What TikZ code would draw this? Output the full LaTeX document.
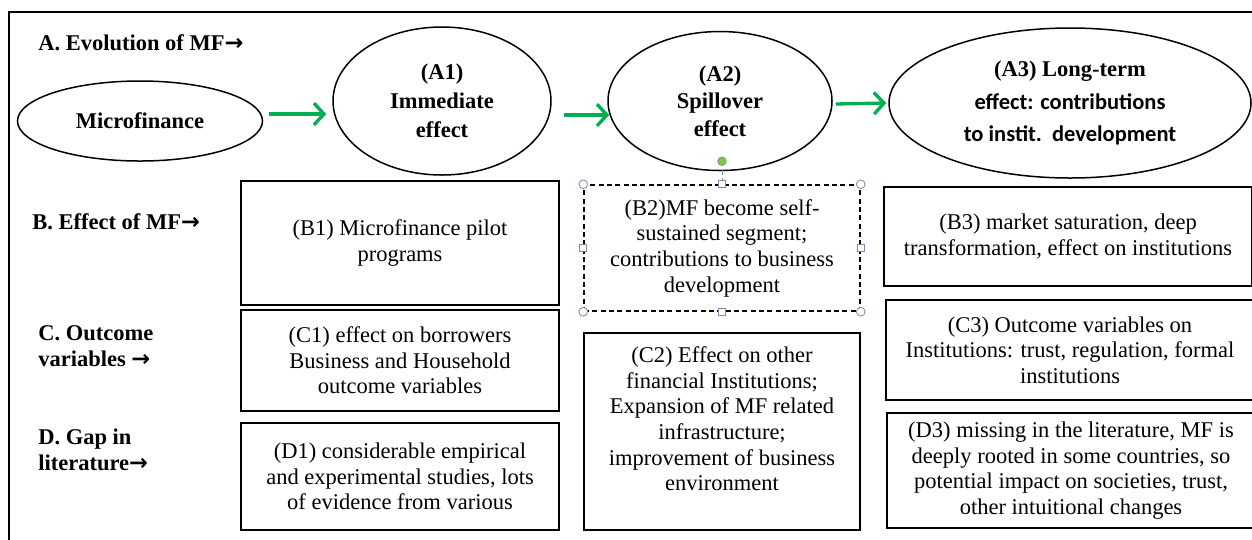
\documentclass[tikz,border=0pt]{standalone}
\usepackage{fontspec}
\setmainfont{Liberation Serif}
\newfontfamily\calibfont{Carlito}
\newfontfamily\arrowfont{DejaVu Sans}
\newcommand{\rarr}{{\arrowfont\bfseries →}}
\usetikzlibrary{shapes,arrows.meta}
\definecolor{arrowgreen}{RGB}{0,176,80}
\definecolor{handlegray}{RGB}{125,140,165}
\definecolor{handlegreen}{RGB}{125,200,60}

\begin{document}
\begin{tikzpicture}[x=0.6pt, y=-0.6pt]
    % Define block styles
    \tikzstyle{stage} = [ellipse, draw, line width=0.9pt, inner sep=0pt, align=center,
        font=\fontsize{13.5}{15.4}\selectfont\bfseries]
    \tikzstyle{block} = [rectangle, draw, line width=0.9pt, align=center,
        font=\fontsize{13.5}{15.4}\selectfont]
    \tikzstyle{rowlabel} = [anchor=west, align=left, inner sep=0pt,
        font=\fontsize{13.5}{15.4}\selectfont\bfseries]
    \tikzstyle{flow} = [draw, arrowgreen, line width=2pt,
        -{Straight Barb[length=6pt, width=13pt]}]
    \tikzstyle{handle} = [draw=handlegray, fill=white, line width=0.5pt]

    \useasboundingbox (0,0) rectangle (1252,539);
    \clip (0,0) rectangle (1252,539);
    \draw[line width=0.9pt] (9,12) rectangle (1275,560);

    % Row labels
    \node [rowlabel] (rowa) at (38,43) {A. Evolution of MF\rarr};
    \node [rowlabel] (rowb) at (32,222) {B. Effect of MF\rarr};
    \node [rowlabel] (rowc) at (38,346) {C. Outcome\\variables \rarr};
    \node [rowlabel] (rowd) at (38,450) {D. Gap in\\literature\rarr};

    % Place nodes
    \node [stage, minimum width=147pt, minimum height=48pt] (mf) at (140,121) {Microfinance};
    \node [stage, minimum width=130.8pt, minimum height=88.8pt] (a1) at (442,101)
        {(A1)\\[2pt]Immediate\\[2pt]effect};
    \node [stage, minimum width=134.4pt, minimum height=83.4pt] (a2) at (720,101)
        {(A2)\\[1pt]Spillover\\[1pt]effect};
    \node [stage, minimum width=217.2pt, minimum height=90pt] (a3) at (1070,103)
        {(A3) Long-term\\[4pt]{\calibfont effect: contributions}\\[4pt]
         {\calibfont to instit.\ \ development}};

    \node [block, minimum width=190.8pt, minimum height=74.4pt] (b1) at (400,243)
        {(B1) Microfinance pilot\\programs};
    \node [block, minimum width=190.8pt, minimum height=60.6pt] (c1) at (400,360.5)
        {(C1) effect on borrowers\\Business and Household\\outcome variables};
    \node [block, minimum width=190.8pt, minimum height=64.2pt] (d1) at (400,476.5)
        {(D1) considerable empirical\\and experimental studies, lots\\of evidence from various};

    \node [block, densely dashed, minimum width=165.6pt, minimum height=75.6pt] (b2) at (722,248)
        {(B2)MF become self-\\sustained segment;\\contributions to business\\development};
    \node [block, minimum width=165.6pt, minimum height=118.2pt] (c2) at (722,431.5)
        {(C2) Effect on other\\financial Institutions;\\Expansion of MF related\\infrastructure;\\improvement of business\\environment\\\mbox{}};

    \node [block, minimum width=220.8pt, minimum height=59.4pt] (b3) at (1068,236.5)
        {(B3) market saturation, deep\\transformation, effect on institutions};
    \node [block, minimum width=220.8pt, minimum height=60pt] (c3) at (1070,350)
        {(C3) Outcome variables on\\Institutions: trust, regulation, formal\\institutions};
    \node [block, minimum width=220.8pt, minimum height=69pt] (d3) at (1071,470.5)
        {(D3) missing in the literature, MF is\\deeply rooted in some countries, so\\potential impact on societies, trust,\\other intuitional changes};

    % Draw edges
    \path [flow] ([shift={(6,-7)}]mf.east) -- ([shift={(-6,13)}]a1.west);
    \path [flow] ([shift={(12,14)}]a1.east) -- ([shift={(2,14)}]a2.west);
    \path [flow] ([shift={(3,3)}]a2.east) -- ([shift={(-2,0)}]a3.west);

    % Selection handles on (B2)
    \coordinate (rot) at ([shift={(0,-23)}]b2.north);
    \draw [handlegray, densely dashed, line width=0.4pt] (rot) -- (b2.north);
    \draw [draw=handlegray, fill=handlegreen, line width=0.4pt] (rot) circle (2.6pt);
    \foreach \c in {north west, north east, south west, south east}
        \draw [handle] (b2.\c) circle (2.6pt);
    \foreach \c in {north, south, east, west}
        \draw [handle] ([shift={(-3.5,-3.5)}]b2.\c) rectangle ++(7,7);
\end{tikzpicture}
\end{document}
